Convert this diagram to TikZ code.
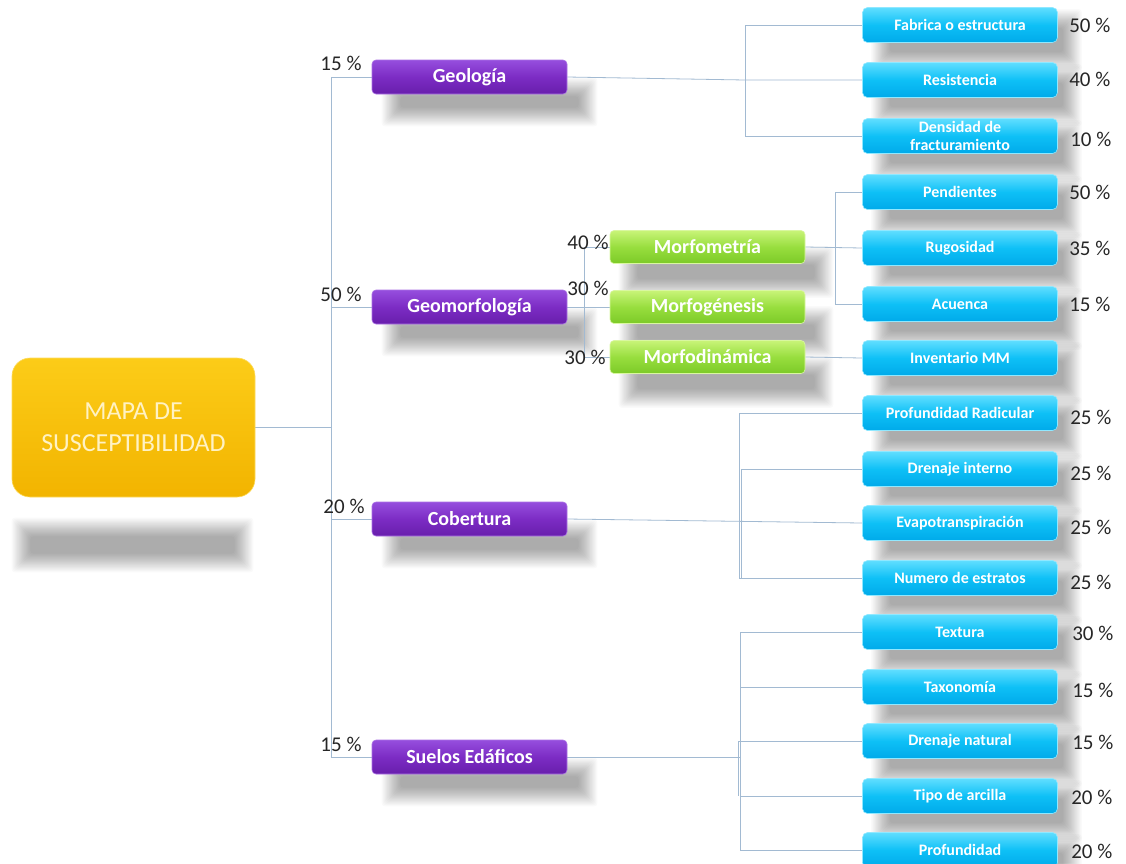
\documentclass[tikz,border=0pt]{standalone}
\usepackage{fontspec}
\setmainfont{Carlito}
\usetikzlibrary{calc}
\pgfdeclarelayer{background}
\pgfdeclarelayer{bottom}
\pgfsetlayers{bottom,background,main}
\definecolor{lineC}{RGB}{162,186,210}
\definecolor{purT}{RGB}{150,78,222}
\definecolor{purM}{RGB}{124,44,196}
\definecolor{purB}{RGB}{104,30,172}
\definecolor{grnT}{RGB}{200,244,120}
\definecolor{grnM}{RGB}{152,222,62}
\definecolor{grnB}{RGB}{124,202,40}
\definecolor{cyaT}{RGB}{96,222,255}
\definecolor{cyaM}{RGB}{14,192,246}
\definecolor{cyaB}{RGB}{0,170,234}
\definecolor{golT}{RGB}{252,204,24}
\definecolor{golB}{RGB}{242,180,0}
\definecolor{rootTxt}{RGB}{255,242,196}
\newcommand\softshade[5]{%
  \foreach \i in {0,...,17}{%
    \fill[black,opacity=0.019,rounded corners=3pt]
      ($(#1.north west)+(#2+1.1*\i,#3+1.1*\i)$) rectangle ($(#1.south east)+(#4-1.1*\i,#5-1.1*\i)$);
  }}
\begin{document}
\begin{tikzpicture}[x=1pt,y=-1pt,
  conn/.style={draw=lineC,line width=0.8pt},
  rootbox/.style={rounded corners=18pt,minimum width=243pt,minimum height=139pt,inner sep=0pt,
    top color=golT,bottom color=golB,draw=golT!70!white,line width=0.6pt,text=rootTxt,align=center,
    font=\fontsize{26}{32}\selectfont},
  purplebox/.style={rounded corners=4pt,minimum width=195pt,minimum height=34pt,inner sep=0pt,
    top color=purT,bottom color=purB,middle color=purM,draw=purT!80!white,line width=0.6pt,
    text=white,font=\fontsize{20}{24}\selectfont\bfseries},
  greenbox/.style={rounded corners=4pt,minimum width=195pt,minimum height=33pt,inner sep=0pt,
    top color=grnT,bottom color=grnB,middle color=grnM,draw=grnT!70!white,line width=0.6pt,
    text=white,font=\fontsize{20}{24}\selectfont\bfseries},
  cyanbox/.style={rounded corners=5pt,minimum width=195pt,minimum height=35pt,inner sep=0pt,
    top color=cyaT,bottom color=cyaB,middle color=cyaM,draw=cyaT!70!white,line width=0.6pt,
    text=white,align=center,font=\fontsize{16}{18}\selectfont\bfseries},
  pct/.style={inner sep=0pt,text=black!85,font=\fontsize{21}{23}\selectfont},
]
\useasboundingbox (0,0) rectangle (1126,863);
\begin{pgfonlayer}{bottom}
\fill[white] (0,0) rectangle (1126,863);
\end{pgfonlayer}

% root
\node[rootbox] (root) at (133.5,427.5) {MAPA DE\\SUSCEPTIBILIDAD};

% first level
\node[purplebox] (geo) at (469.5,77) {Geología};
\node[purplebox] (geomorf) at (469.5,307) {Geomorfología};
\node[purplebox] (cob) at (469.5,519) {Cobertura};
\node[purplebox] (suelos) at (469.5,757) {Suelos Edáficos};

\node[pct] (pgeo) at (341,63) {15 \%};
\node[pct] (pgeomorf) at (341,294) {50 \%};
\node[pct] (pcob) at (344,506) {20 \%};
\node[pct] (psuelos) at (341,744) {15 \%};

% green
\node[greenbox] (morfomet) at (707.5,247) {Morfometría};
\node[greenbox] (morfogen) at (707.5,307) {Morfogénesis};
\node[greenbox] (morfodin) at (707.5,357) {Morfodinámica};
\node[pct] (pmet) at (588,242) {40 \%};
\node[pct] (pgen) at (588,288) {30 \%};
\node[pct] (pdin) at (585,357) {30 \%};

% cyan
\node[cyanbox] (fab) at (960,25) {Fabrica o estructura};
\node[cyanbox] (res) at (960,80) {Resistencia};
\node[cyanbox] (den) at (960,136) {Densidad de\\fracturamiento};
\node[cyanbox] (pen) at (960,192) {Pendientes};
\node[cyanbox] (rug) at (960,248) {Rugosidad};
\node[cyanbox] (acu) at (960,304) {Acuenca};
\node[cyanbox] (inv) at (960,358) {Inventario MM};
\node[cyanbox] (prad) at (960,413) {Profundidad Radicular};
\node[cyanbox] (drin) at (960,469) {Drenaje interno};
\node[cyanbox] (eva) at (960,523) {Evapotranspiración};
\node[cyanbox] (num) at (960,578) {Numero de estratos};
\node[cyanbox] (tex) at (960,632) {Textura};
\node[cyanbox] (tax) at (960,687) {Taxonomía};
\node[cyanbox] (dnat) at (960,741) {Drenaje natural};
\node[cyanbox] (tipo) at (960,796) {Tipo de arcilla};
\node[cyanbox] (prof) at (960,850) {Profundidad};

\node[pct] (q1) at ($(fab.east)+(32,0)$) {50 \%};
\node[pct] (q2) at ($(res.east)+(32,-1)$) {40 \%};
\node[pct] (q3) at ($(den.east)+(33,3)$) {10 \%};
\node[pct] (q4) at ($(pen.east)+(32,0)$) {50 \%};
\node[pct] (q5) at ($(rug.east)+(32,0)$) {35 \%};
\node[pct] (q6) at ($(acu.east)+(32,0)$) {15 \%};
\node[pct] (q7) at ($(prad.east)+(33,4)$) {25 \%};
\node[pct] (q8) at ($(drin.east)+(33,4)$) {25 \%};
\node[pct] (q9) at ($(eva.east)+(33,4)$) {25 \%};
\node[pct] (q10) at ($(num.east)+(33,4)$) {25 \%};
\node[pct] (q11) at ($(tex.east)+(35,1)$) {30 \%};
\node[pct] (q12) at ($(tax.east)+(35,3)$) {15 \%};
\node[pct] (q13) at ($(dnat.east)+(35,1)$) {15 \%};
\node[pct] (q14) at ($(tipo.east)+(34,1)$) {20 \%};
\node[pct] (q15) at ($(prof.east)+(34,1)$) {20 \%};

% bracket x positions
\coordinate (tr) at (331,0);
\coordinate (gb) at (745,0);
\coordinate (mb) at (584,0);
\coordinate (pb) at (835,0);
\coordinate (cb) at (739,0);
\coordinate (cb2) at (741,0);
\coordinate (sb) at (740,0);
\coordinate (sb2) at (738,0);

\begin{pgfonlayer}{background}
% shadows
\softshade{root}{0}{160}{-2}{75}
\foreach \n in {geo,geomorf,cob,suelos}{\softshade{\n}{10}{18}{30}{32}}
\foreach \n in {morfomet,morfogen,morfodin}{\softshade{\n}{9}{16}{28}{34}}
\foreach \n in {fab,res,den,pen,rug,acu,inv,prad,drin,eva,num,tex,tax,dnat,tipo,prof}{\softshade{\n}{9}{2}{24}{28}}

% trunk
\draw[conn] (root.east) -- (root.east -| tr);
\draw[conn] (geo.west) -- (geo.west -| tr) -- (suelos.west -| tr) -- (suelos.west);
\draw[conn] (geomorf.west -| tr) -- (geomorf.west);
\draw[conn] (cob.west -| tr) -- (cob.west);

% geologia
\draw[conn] (geo.east) -- (res.west -| gb) -- (res.west);
\draw[conn] (fab.west) -- (fab.west -| gb) -- (den.west -| gb) -- (den.west);

% geomorfologia
\draw[conn] (geomorf.east) -- (morfogen.west);
\draw[conn] (morfomet.west) -- (morfomet.west -| mb) -- (morfodin.west -| mb) -- (morfodin.west);
\draw[conn] (morfomet.east) -- (rug.west);
\draw[conn] (pen.west) -- (pen.west -| pb) -- (acu.west -| pb) -- (acu.west);
\draw[conn] (morfodin.east) -- (inv.west);

% cobertura
\draw[conn] (cob.east) -- (eva.west);
\draw[conn] (prad.west) -- (prad.west -| cb) -- (num.west -| cb) -- (num.west);
\draw[conn] (drin.west) -- (drin.west -| cb2) -- (num.west -| cb2);

% suelos
\draw[conn] (suelos.east) -- (suelos.east -| sb);
\draw[conn] (tex.west) -- (tex.west -| sb) -- (prof.west -| sb) -- (prof.west);
\draw[conn] (tax.west -| sb) -- (tax.west);
\draw[conn] (dnat.west -| sb2) -- (dnat.west);
\draw[conn] (dnat.west -| sb2) -- (tipo.west -| sb2);
\draw[conn] (tipo.west -| sb) -- (tipo.west);
\end{pgfonlayer}
\end{tikzpicture}
\end{document}
